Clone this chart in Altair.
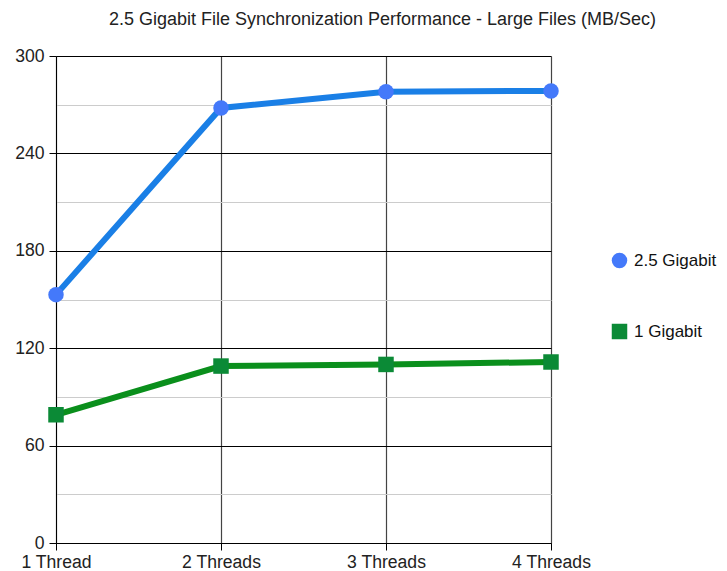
import altair as alt
import pandas as pd

threads = ["1 Thread", "2 Threads", "3 Threads", "4 Threads"]
series_names = ["2.5 Gigabit", "1 Gigabit"]
gig25 = [153, 268, 278, 278.5]
gig1 = [79, 109, 110, 111.5]
line_colors = ["#1a7fe6", "#0a8f1c"]
point_colors = ["#4479fa", "#0b8a36"]
shapes = ["circle", "square"]
y_ticks = [0, 30, 60, 90, 120, 150, 180, 210, 240, 270, 300]

rows = []
for name, vals in zip(series_names, [gig25, gig1]):
    for t, v in zip(threads, vals):
        rows.append({"threads": t, "value": v, "series": name})
df = pd.DataFrame(rows)

FONT = "Liberation Sans"
FS = 17.6

x_enc = alt.X(
    "threads:N",
    sort=threads,
    scale=alt.Scale(type="point", padding=0),
    axis=alt.Axis(
        title=None, labelAngle=0, labelFontSize=FS, labelColor="#222",
        labelFont=FONT, labelPadding=3, tickSize=7, tickColor="black",
        domainColor="black", grid=True, gridColor="#444", gridWidth=1.2,
    ),
)
y_enc = alt.Y(
    "value:Q",
    scale=alt.Scale(domain=[0, 300], nice=False),
    axis=alt.Axis(
        title=None, values=y_ticks, labelFontSize=FS, labelColor="#222",
        labelFont=FONT, labelPadding=5, tickSize=7,
        labelExpr="datum.value % 60 === 0 ? datum.label : ''",
        tickColor=alt.condition("datum.value % 60 === 0", alt.value("black"), alt.value("transparent")),
        gridColor=alt.condition("datum.value % 60 === 0", alt.value("black"), alt.value("#cccccc")),
        domainColor="black", grid=True,
    ),
)

line_layers = []
for name, lc in zip(series_names, line_colors):
    line_layers.append(
        alt.Chart(df)
        .transform_filter(alt.datum.series == name)
        .mark_line(strokeWidth=6, color=lc)
        .encode(x=x_enc, y=y_enc)
    )

legend_spec = alt.Legend(
    title=None, orient="none", legendX=555, legendY=196,
    labelFontSize=17, labelFont=FONT, labelColor="#111",
    symbolSize=240, symbolStrokeWidth=0, rowPadding=53, labelOffset=6,
    padding=0,
)

points = alt.Chart(df).mark_point(filled=True, size=240, opacity=1).encode(
    x=alt.X("threads:N", sort=threads),
    y="value:Q",
    color=alt.Color(
        "series:N",
        scale=alt.Scale(domain=series_names, range=point_colors),
        legend=legend_spec,
    ),
    shape=alt.Shape(
        "series:N",
        scale=alt.Scale(domain=series_names, range=shapes),
        legend=legend_spec,
    ),
)

chart = (
    alt.layer(*line_layers, points)
    .properties(
        width=495,
        height=487,
        autosize=alt.AutoSizeParams(type="none"),
        padding={"left": 48, "top": 48, "right": 168, "bottom": 28},
        title=alt.TitleParams(
            "2.5 Gigabit File Synchronization Performance - Large Files (MB/Sec)",
            fontSize=18, fontWeight="normal", font=FONT, color="#222",
            anchor="middle", dx=79, offset=18,
        ),
    )
    .configure_view(strokeWidth=0)
)

chart.save("out.html", embed_options={"renderer": "svg", "actions": False})
